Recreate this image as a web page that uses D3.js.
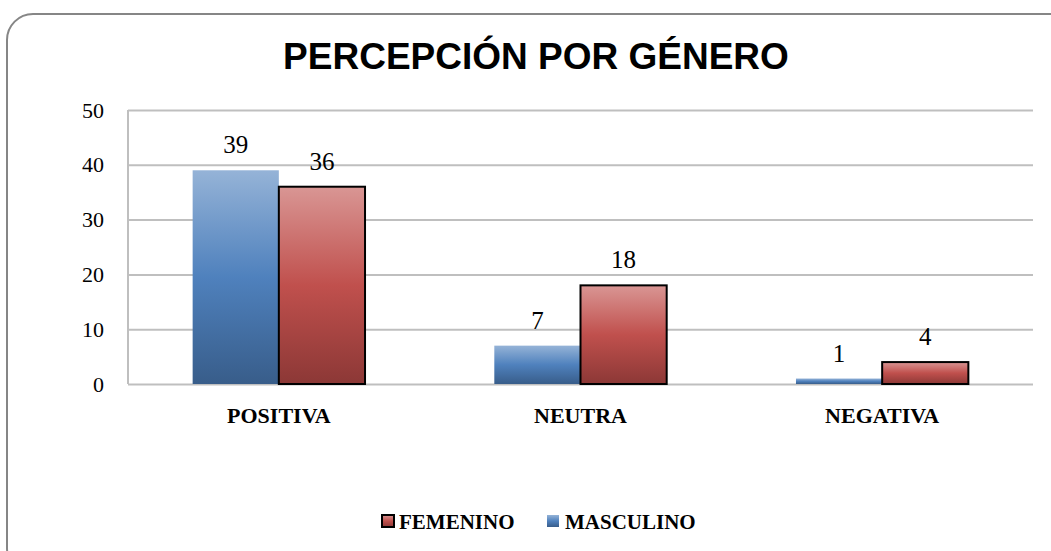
<!DOCTYPE html>
<html lang="es">
  <head>
    <meta charset="UTF-8" />
    <title>Percepción por género</title>
    <script src="https://cdn.jsdelivr.net/npm/d3@7"></script>
    <style>
      html,
      body {
        margin: 0;
        padding: 0;
        background: #fff;
      }
      svg {
        display: block;
      }
    </style>
  </head>
  <body>
    <svg width="1051" height="551"></svg>
    <script>
      const categories = ['POSITIVA', 'NEUTRA', 'NEGATIVA'];
      const seriesNames = ['MASCULINO', 'FEMENINO'];
      const masculino = [39, 7, 1];
      const femenino = [36, 18, 4];
      const yTicks = [0, 10, 20, 30, 40, 50];

      const svg = d3.select('svg');
      const serif = "'Liberation Serif', 'DejaVu Serif', serif";

      // gradients
      const defs = svg.append('defs');
      function grad(id, stops) {
        const g = defs
          .append('linearGradient')
          .attr('id', id)
          .attr('x1', 0)
          .attr('y1', 0)
          .attr('x2', 0)
          .attr('y2', 1);
        stops.forEach(function(s) {
          g.append('stop').attr('offset', s[0]).attr('stop-color', s[1]);
        });
      }
      grad('gBlue', [[0, '#95b3d7'], [0.5, '#4f81bd'], [1, '#385d8a']]);
      grad('gRed', [[0, '#d99694'], [0.5, '#c0504d'], [1, '#8c3836']]);

      // frame
      svg
        .append('rect')
        .attr('x', 7)
        .attr('y', 14)
        .attr('width', 1070)
        .attr('height', 560)
        .attr('rx', 26)
        .attr('fill', 'none')
        .attr('stroke', '#868686')
        .attr('stroke-width', 2);

      svg
        .append('text')
        .attr('x', 536)
        .attr('y', 69)
        .attr('text-anchor', 'middle')
        .style('font-family', "'Liberation Sans', Arial, sans-serif")
        .style('font-weight', 'bold')
        .style('font-size', '37px')
        .text('PERCEPCIÓN POR GÉNERO');

      const x0 = d3
        .scaleBand()
        .domain(categories)
        .range([128, 1033]);

      const x1 = d3
        .scaleBand()
        .domain(seriesNames)
        .range([0, x0.bandwidth()])
        .paddingOuter(0.75);

      const y = d3
        .scaleLinear()
        .domain([0, 50])
        .range([384, 110]);

      // grid
      const grid = d3
        .axisLeft(y)
        .tickValues(yTicks)
        .tickSize(-(1033 - 128))
        .tickFormat('');
      const gg = svg
        .append('g')
        .attr('transform', 'translate(128,0)')
        .call(grid);
      gg.select('.domain').remove();
      gg.selectAll('line').attr('stroke', '#bfbfbf').attr('stroke-width', 2);

      svg
        .append('line')
        .attr('x1', 128)
        .attr('x2', 128)
        .attr('y1', y(50))
        .attr('y2', y(0))
        .attr('stroke', '#bfbfbf')
        .attr('stroke-width', 2);

      // y labels
      const yAxis = d3
        .axisLeft(y)
        .tickValues(yTicks)
        .tickSize(0)
        .tickPadding(0);
      const ya = svg
        .append('g')
        .attr('transform', 'translate(104,0)')
        .call(yAxis);
      ya.select('.domain').remove();
      ya.selectAll('text')
        .style('font-family', serif)
        .style('font-size', '22px')
        .attr('fill', '#000');

      const rows = categories.map(function(c, i) {
        return { cat: c, vals: [masculino[i], femenino[i]] };
      });

      const groups = svg
        .selectAll('g.cat')
        .data(rows)
        .enter()
        .append('g')
        .attr('class', 'cat')
        .attr('transform', function(d) {
          return 'translate(' + x0(d.cat) + ',0)';
        });

      groups
        .selectAll('rect')
        .data(function(d) {
          return seriesNames.map(function(s, j) {
            return { s: s, v: d.vals[j] };
          });
        })
        .enter()
        .append('rect')
        .attr('x', function(d) {
          return x1(d.s);
        })
        .attr('y', function(d) {
          return y(d.v);
        })
        .attr('width', x1.bandwidth())
        .attr('height', function(d) {
          return y(0) - y(d.v);
        })
        .attr('fill', function(d) {
          return d.s === 'MASCULINO' ? 'url(#gBlue)' : 'url(#gRed)';
        })
        .attr('stroke', function(d) {
          return d.s === 'MASCULINO' ? 'none' : '#000';
        })
        .attr('stroke-width', 2);

      groups
        .selectAll('text.val')
        .data(function(d) {
          return seriesNames.map(function(s, j) {
            return { s: s, v: d.vals[j] };
          });
        })
        .enter()
        .append('text')
        .attr('class', 'val')
        .attr('x', function(d) {
          return x1(d.s) + x1.bandwidth() / 2;
        })
        .attr('y', function(d) {
          return y(d.v) - 17;
        })
        .attr('text-anchor', 'middle')
        .style('font-family', serif)
        .style('font-size', '25px')
        .text(function(d) {
          return d.v;
        });

      // category labels
      svg
        .selectAll('text.cat')
        .data(categories)
        .enter()
        .append('text')
        .attr('class', 'cat')
        .attr('x', function(d) {
          return x0(d) + x0.bandwidth() / 2;
        })
        .attr('y', 423)
        .attr('text-anchor', 'middle')
        .style('font-family', serif)
        .style('font-weight', 'bold')
        .style('font-size', '22px')
        .text(function(d) {
          return d;
        });

      // legend
      const legend = [
        { name: 'FEMENINO', fill: 'url(#gRed)', stroke: '#000', x: 381, tx: 399 },
        { name: 'MASCULINO', fill: 'url(#gBlue)', stroke: 'none', x: 546, tx: 565 }
      ];
      const lg = svg
        .selectAll('g.leg')
        .data(legend)
        .enter()
        .append('g')
        .attr('class', 'leg');
      lg.append('rect')
        .attr('x', function(d) {
          return d.x + 1;
        })
        .attr('y', 515)
        .attr('width', 12)
        .attr('height', 12)
        .attr('fill', function(d) {
          return d.fill;
        })
        .attr('stroke', function(d) {
          return d.stroke;
        })
        .attr('stroke-width', 2);
      lg.append('text')
        .attr('x', function(d) {
          return d.tx;
        })
        .attr('y', 529)
        .style('font-family', serif)
        .style('font-weight', 'bold')
        .style('font-size', '21px')
        .text(function(d) {
          return d.name;
        });
    </script>
  </body>
</html>
